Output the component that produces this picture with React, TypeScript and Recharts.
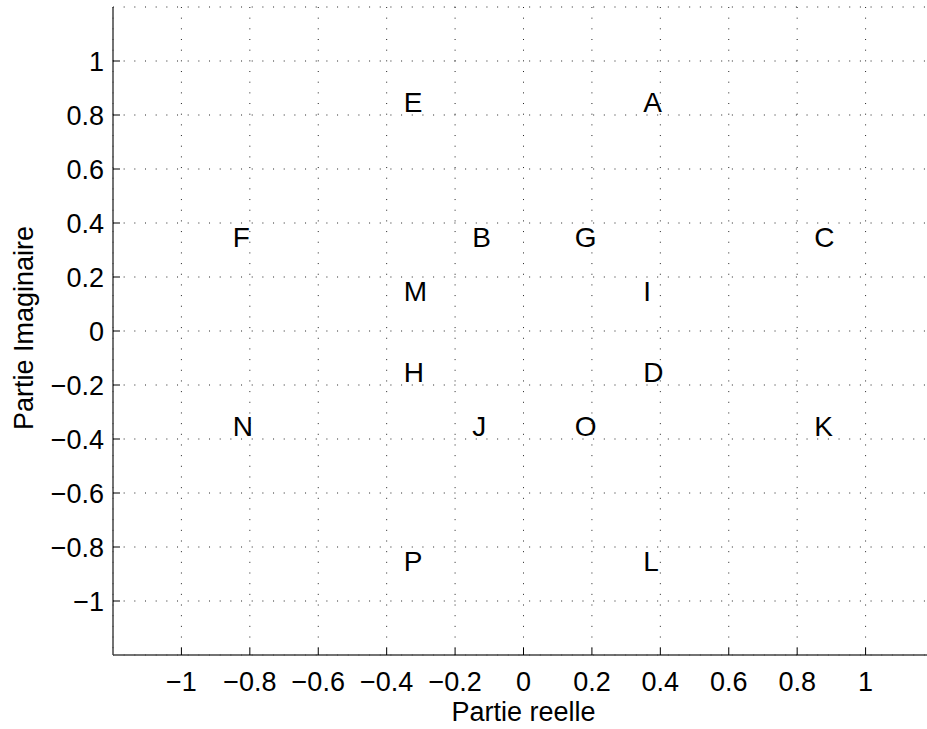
import React from 'react';
import { ScatterChart, Scatter, XAxis, YAxis, CartesianGrid } from 'recharts';

const FONT = '"Liberation Sans", Arial, Helvetica, sans-serif';

const xTicks = [-1, -0.8, -0.6, -0.4, -0.2, 0, 0.2, 0.4, 0.6, 0.8, 1];
const yTicks = [-1, -0.8, -0.6, -0.4, -0.2, 0, 0.2, 0.4, 0.6, 0.8, 1];

const letters = ['A', 'B', 'C', 'D', 'E', 'F', 'G', 'H', 'I', 'J', 'K', 'L', 'M', 'N', 'O', 'P'];
const realParts = [0.35, -0.15, 0.85, 0.35, -0.35, -0.85, 0.15, -0.35, 0.35, -0.15, 0.85, 0.35, -0.35, -0.85, 0.15, -0.35];
const imagParts = [0.85, 0.35, 0.35, -0.15, 0.85, 0.35, 0.35, -0.15, 0.15, -0.35, -0.35, -0.85, 0.15, -0.35, -0.35, -0.85];

const points = letters.map((label, i) => ({ label, x: realParts[i], y: imagParts[i] }));

const fmt = (v: number) => (v < 0 ? '\u2212' + String(Math.abs(v)) : String(v));

const XTick = (props: any) => {
  const { x, y, payload } = props;
  return (
    <text x={x} y={y} textAnchor="middle" dy="0.71em" fontSize={27} fontFamily={FONT} fill="#000">
      {fmt(payload.value)}
    </text>
  );
};

const YTick = (props: any) => {
  const { x, y, payload } = props;
  return (
    <text x={x} y={y} textAnchor="end" dy="0.36em" fontSize={27} fontFamily={FONT} fill="#000">
      {fmt(payload.value)}
    </text>
  );
};

const renderLetter = (props: any) => {
  const { cx, cy, payload } = props;
  return (
    <text x={cx} y={cy} textAnchor="start" dy="0.36em" fontSize={28} fontFamily={FONT} fill="#000">
      {payload.label}
    </text>
  );
};

const xLabel = (props: any) => {
  const vb = props.viewBox;
  return (
    <text x={vb.x + vb.width / 2} y={vb.y + 66} textAnchor="middle" fontSize={27} fontFamily={FONT} fill="#000">
      Partie reelle
    </text>
  );
};

const yLabel = (props: any) => {
  const vb = props.viewBox;
  const cx = vb.x + 33;
  const cy = vb.y + vb.height / 2 - 3;
  return (
    <text x={cx} y={cy} transform={`rotate(-90, ${cx}, ${cy})`} textAnchor="middle" fontSize={27} fontFamily={FONT} fill="#000">
      Partie Imaginaire
    </text>
  );
};

export default function App() {
  return (
    <div style={{ position: 'absolute', left: 0, top: 0, width: 927, height: 729, overflow: 'hidden', background: '#fff' }}>
      <ScatterChart width={940} height={729} margin={{ top: 7, right: 6, bottom: 0, left: 0 }}>
        <CartesianGrid stroke="#222" strokeWidth={1} strokeDasharray="1 9.67" />
        <XAxis
          type="number"
          dataKey="x"
          domain={[-1.2, 1.2]}
          ticks={xTicks}
          interval={0}
          allowDataOverflow
          height={74}
          tickSize={-7}
          tickMargin={24}
          tick={<XTick />}
          axisLine={{ stroke: '#444', strokeWidth: 1.5 }}
          tickLine={{ stroke: '#000', strokeWidth: 1 }}
          label={xLabel}
        />
        <YAxis
          type="number"
          dataKey="y"
          domain={[-1.2, 1.2]}
          ticks={yTicks}
          interval={0}
          allowDataOverflow
          width={113}
          tickSize={-7}
          tickMargin={16}
          tick={<YTick />}
          axisLine={{ stroke: '#444', strokeWidth: 1.5 }}
          tickLine={{ stroke: '#000', strokeWidth: 1 }}
          label={yLabel}
        />
        <Scatter data={points} isAnimationActive={false} shape={renderLetter} />
      </ScatterChart>
    </div>
  );
}
